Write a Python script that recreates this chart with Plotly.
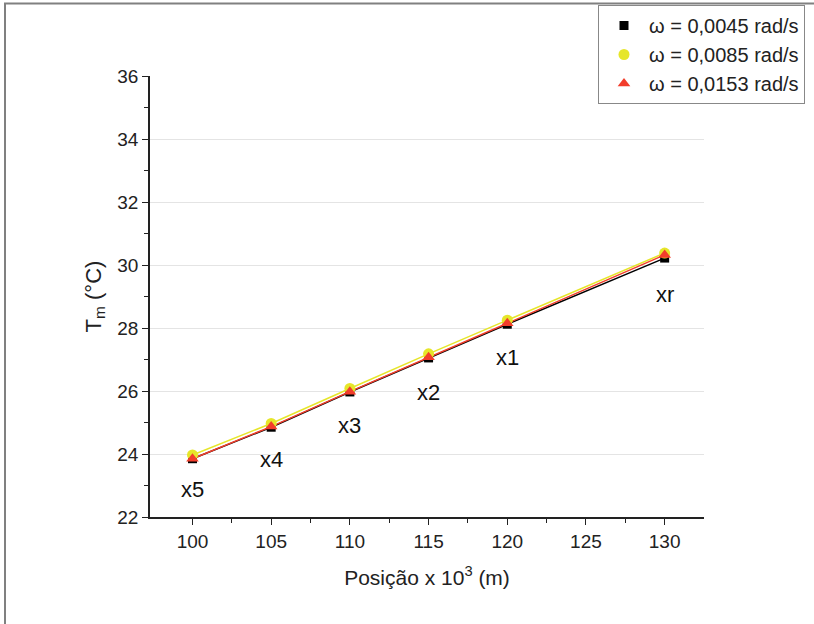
import plotly.graph_objects as go

positions = [100, 105, 110, 115, 120, 130]
t_0045 = [23.85, 24.85, 25.97, 27.05, 28.12, 30.22]
t_0085 = [23.97, 24.97, 26.08, 27.18, 28.25, 30.38]
t_0153 = [23.85, 24.87, 25.98, 27.07, 28.15, 30.32]
series_names = ["ω = 0,0045 rad/s", "ω = 0,0085 rad/s", "ω = 0,0153 rad/s"]
point_labels = ["x5", "x4", "x3", "x2", "x1", "xr"]
label_y = [22.86, 23.81, 24.92, 25.94, 27.05, 29.05]
y_ticks = [22, 24, 26, 28, 30, 32, 34, 36]
x_ticks = [100, 105, 110, 115, 120, 125, 130]

FONT = "Liberation Sans, Arial"
fig = go.Figure()
styles = [("#000000", "square", 9), ("#e6e62a", "circle", 11), ("#f23d2b", "triangle-up", 11)]
for vals, name, (col, sym, sz) in zip([t_0045, t_0085, t_0153], series_names, styles):
    fig.add_trace(go.Scatter(x=positions, y=vals, mode="lines", showlegend=False,
                             line=dict(color=col, width=1.5), hoverinfo="skip"))
for vals, name, (col, sym, sz) in zip([t_0045, t_0085, t_0153], series_names, styles):
    fig.add_trace(go.Scatter(x=positions, y=vals, name=name, mode="markers",
                             marker=dict(color=col, symbol=sym, size=sz)))

for xv, yv, t in zip(positions, label_y, point_labels):
    fig.add_annotation(x=xv, y=yv, text=t, showarrow=False,
                       font=dict(size=22, color="#111111", family=FONT))

L, R, T, B = 150, 704, 76, 517
W, H = R - L, B - T
def px(x): return (x - L) / W
def py(y): return (B - y) / H

fig.add_shape(type="rect", xref="paper", yref="paper",
              x0=px(5), x1=px(830), y0=py(640), y1=py(3.5),
              line=dict(color="#808080", width=2), layer="below")

fig.update_layout(
    width=814, height=624,
    margin=dict(l=L, r=814 - R, t=T, b=624 - B, autoexpand=False),
    paper_bgcolor="white", plot_bgcolor="white",
    font=dict(family=FONT, size=19, color="#222222"),
    legend=dict(x=598 / 814, y=1 - 5 / 624, xref="container", yref="container",
                xanchor="left", yanchor="top",
                bordercolor="#888888", borderwidth=1, bgcolor="white",
                font=dict(size=20), tracegroupgap=0, itemwidth=40),
    showlegend=True,
)
fig.update_xaxes(range=[97.3, 132.5], tickvals=x_ticks, ticks="outside", ticklen=6,
                 tickcolor="#222222", showline=True, linecolor="#222222", linewidth=1.5,
                 showgrid=False, zeroline=False, tickfont=dict(size=19),
                 minor=dict(tickvals=[102.5, 107.5, 112.5, 117.5, 122.5, 127.5], ticks="outside", ticklen=4, tickcolor="#222222"),
                 title=dict(text="Posição x 10<sup>3</sup> (m)", font=dict(size=21), standoff=20))
fig.update_yaxes(range=[22, 36], tickvals=y_ticks, ticks="outside", ticklen=6,
                 tickcolor="#222222", showline=True, linecolor="#222222", linewidth=1.5,
                 showgrid=True, gridcolor="#e4e4e4", gridwidth=1, zeroline=False, tickfont=dict(size=19),
                 minor=dict(tickvals=[23, 25, 27, 29, 31, 33, 35], ticks="outside", ticklen=4, tickcolor="#222222"),
                 title=dict(text="T<sub>m</sub> (°C)", font=dict(size=22), standoff=10))

fig.write_html("out.html")
